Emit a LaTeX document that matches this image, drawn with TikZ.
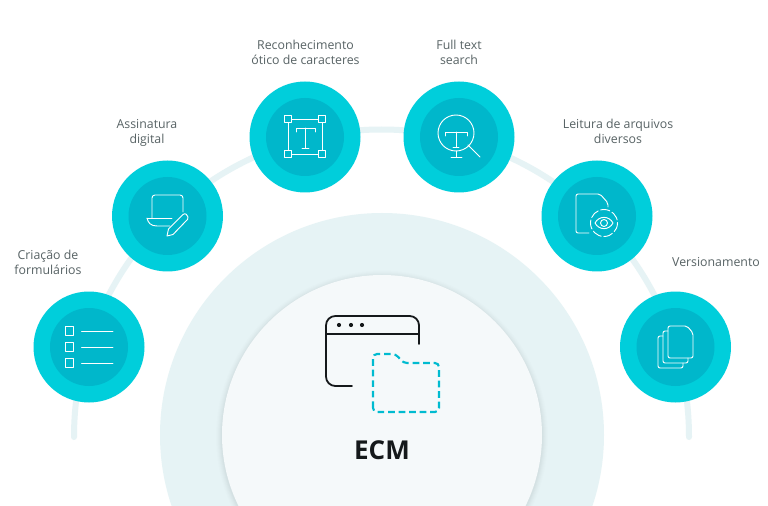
\documentclass[tikz,border=0pt]{standalone}
\usepackage{fontspec}
\setmainfont{Open Sans}
\definecolor{outerc}{HTML}{00CEDB}
\definecolor{innerc}{HTML}{00B7CB}
\definecolor{arcc}{HTML}{E6F3F5}
\definecolor{corec}{HTML}{F5F9FA}
\definecolor{txtc}{HTML}{586365}
\definecolor{inkc}{HTML}{15191B}
\definecolor{dashc}{HTML}{00BBD0}
\tikzset{
  bigdisc/.style={circle,draw=none,fill=outerc,minimum size=83.25pt,inner sep=0pt},
  smalldisc/.style={circle,draw=none,fill=innerc,minimum size=58.5pt,inner sep=0pt},
  lab/.style={align=center,text=txtc,font=\fontsize{9.25pt}{11.25pt}\selectfont,inner sep=0pt},
  ico/.style={draw=white,line width=0.7pt,line join=round,line cap=round},
}
\begin{document}
\begin{tikzpicture}[x=0.75pt,y=-0.75pt]
\useasboundingbox (0,0) rectangle (768,506);
\fill[white] (0,0) rectangle (768,506);
\begin{scope}
\clip (0,0) rectangle (768,506);
% outer arc
\draw[arcc,line width=4.5pt,line cap=round] (74,437) arc[start angle=180,end angle=360,radius=307.5];
% big discs
\fill[arcc] (382,435) circle[radius=222];
\foreach \r/\o in {166/0.006,165/0.008,164/0.01,163/0.012,162/0.014,161/0.016}{
  \fill[black,opacity=\o] (382,436.5) circle[radius=\r];
}
\fill[corec] (382,435) circle[radius=160];
\end{scope}
% feature discs
\node[bigdisc] (a) at (89,347) {};
\node[bigdisc] (b) at (167.5,216) {};
\node[bigdisc] (c) at (305,137) {};
\node[bigdisc] (d) at (459,137) {};
\node[bigdisc] (e) at (597,216) {};
\node[bigdisc] (f) at (675.5,347) {};
\node[smalldisc] (ai) at (a) {};
\node[smalldisc] (bi) at (b) {};
\node[smalldisc] (ci) at (c) {};
\node[smalldisc] (di) at (d) {};
\node[smalldisc] (ei) at (e) {};
\node[smalldisc] (fi) at (f) {};
% form icon
\foreach \y in {331,347,363}{
  \draw[ico] (65,\y-4.5) rectangle (73.5,\y+4);
  \draw[ico] (81.5,\y) -- (113,\y);
}
% signature icon
\draw[ico,rounded corners=2.2pt] (152,218) -- (152,195) -- (183,195) -- (183,212);
\draw[ico] (147,218) -- (172,218);
\draw[ico] (147,218) .. controls (148,223) and (151,226) .. (157,226) -- (170,226);
\draw[ico] (167,236) -- (168.5,229) -- (183,214.5) .. controls (185,212.5) and (188,215) .. (188,217) .. controls (188.5,219) and (187,220) .. (186,221) -- (173,234.5) -- cycle;
% T box icon
\foreach \x/\y in {288/119,322/119,288/154,322/154}{
  \draw[ico] (\x-3.7,\y-3.7) rectangle (\x+3.7,\y+3.7);
}
\draw[ico] (291.7,119) -- (318.3,119);
\draw[ico] (291.7,154) -- (318.3,154);
\draw[ico] (288,122.7) -- (288,150.3);
\draw[ico] (322,122.7) -- (322,150.3);
\draw[ico] (296,132) -- (296,128) -- (315,128) -- (315,132);
\draw[ico] (305,128) -- (305,148);
\draw[ico] (302,148) -- (309,148);
% search icon
\draw[ico] (456,133) circle[radius=18];
\draw[ico] (445.5,136) -- (445.5,132) -- (467,132) -- (467,136);
\draw[ico] (456,132) -- (456,147);
\draw[ico] (453,147) -- (459,147);
\draw[ico] (456,151) -- (456,157);
\draw[ico] (451,157) -- (462,157);
\draw[ico] (468,145) -- (480,157);
% doc-eye icon
\draw[ico,rounded corners=1.5pt] (589,233) -- (576,233) -- (576,194) -- (600,194) -- (608,203) -- (608,207);
\draw[ico,dash pattern=on 7pt off 2pt] (604,223) circle[radius=13.5];
\draw[ico] (595,223) .. controls (599,215.5) and (609,215.5) .. (613,223) .. controls (609,230.5) and (599,230.5) .. (595,223) -- cycle;
\draw[ico] (604,223) circle[radius=3.5];
% pages icon
\draw[ico,rounded corners=1.5pt] (668,358) -- (668,326) -- (687,326) -- (693,333) -- (693,358) -- cycle;
\draw[ico,rounded corners=1.5pt] (668,331) -- (663,331) -- (663,363) -- (688,363) -- (688,358);
\draw[ico,rounded corners=1.5pt] (663,336) -- (658,336) -- (658,368) -- (683,368) -- (683,363);
% window icon
\draw[inkc,line width=1.35pt,line cap=round,rounded corners=7pt] (419,344) -- (419,316) -- (326,316) -- (326,386) -- (352,386);
\draw[inkc,line width=1.35pt] (326,334) -- (419,334);
\foreach \x in {339,351,362}{
  \fill[inkc] (\x,325) circle[radius=2.1];
}
% folder icon
\draw[dashc,line width=1.6pt,dash pattern=on 5pt off 2.9pt,line join=round,rounded corners=3pt] (373,412) -- (373,354) -- (396,354) -- (403,363) -- (439,363) -- (439,412) -- cycle;
% labels
\node[inkc,font=\fontsize{19.5pt}{22pt}\selectfont\bfseries,inner sep=0pt] (core) at (382,450) {ECM};
\node[lab] (la) at (48,262.5) {Criação de\\formulários};
\node[lab] (lb) at (147,133) {Assinatura\\digital};
\node[lab] (lc) at (305.5,52.5) {Reconhecimento\\ótico de caracteres};
\node[lab] (ld) at (459,52.5) {Full text\\search};
\node[lab] (le) at (618,131.5) {Leitura de arquivos\\diversos};
\node[lab] (lf) at (716,262.5) {Versionamento};
\end{tikzpicture}
\end{document}
